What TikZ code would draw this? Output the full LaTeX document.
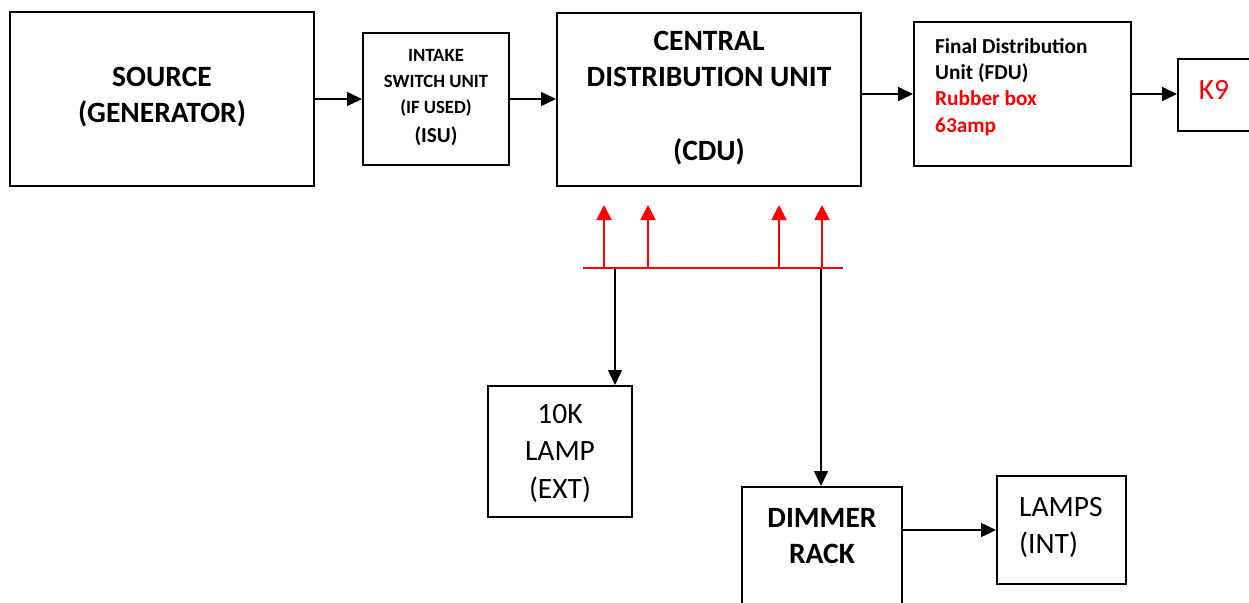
\documentclass[tikz,border=0pt]{standalone}
\usepackage{fontspec}
\setmainfont{Carlito}
\usetikzlibrary{arrows.meta}
\begin{document}
\begin{tikzpicture}[x=1pt,y=-1pt,
  box/.style={draw,line width=2pt,inner sep=0pt},
  arr/.style={line width=1.5pt,-{Triangle[length=15pt,width=14pt]}},
  rarr/.style={red,line width=2pt,-{Triangle[length=15pt,width=15pt]}},
  bigr/.style={align=center,font=\fontsize{29.5}{37.5}\selectfont},
  bigb/.style={align=center,font=\fontsize{29.5}{36}\selectfont\bfseries},
]
\useasboundingbox (0,0) rectangle (1249,602);
% boxes
\node[box,minimum width=304pt,minimum height=174pt] (src) at (162,99) {};
\node[box,minimum width=146pt,minimum height=132pt] (isu) at (436,99) {};
\node[box,minimum width=304pt,minimum height=173pt] (cdu) at (709,99.5) {};
\node[box,minimum width=217pt,minimum height=144pt] (fdu) at (1022.5,94) {};
\node[box,minimum width=92pt,minimum height=72pt] (k9) at (1224,95) {};
\node[box,minimum width=144pt,minimum height=131pt] (lamp) at (560,451.5) {};
\node[box,minimum width=160pt,minimum height=153pt] (dim) at (822,563.5) {};
\node[box,minimum width=129pt,minimum height=108pt] (lamps) at (1061.5,530) {};
% texts
\node[bigb] (srct) at (162,97) {SOURCE\\(GENERATOR)};
\node[align=center,font=\fontsize{18.7}{26}\selectfont\bfseries] (isut) at (436,98)
  {INTAKE\\SWITCH UNIT\\(IF USED)\\[3pt]{\fontsize{21.3}{26}\selectfont (ISU)}};
\node[bigb] (cdut) at (709,98.5) {CENTRAL\\DISTRIBUTION UNIT\\[38pt](CDU)};
\node[anchor=north west,inner sep=0pt,align=left,font=\fontsize{21.3}{26.3}\selectfont\bfseries] (fdut) at (935,38)
  {Final Distribution\\Unit (FDU)\\\textcolor{red}{Rubber box}\\\textcolor{red}{63amp}};
\node[red,font=\fontsize{29.5}{36}\selectfont] (k9t) at (1214,90) {K9};
\node[bigr] (lampt) at (560,453) {10K\\LAMP\\(EXT)};
\node[bigb,font=\fontsize{29.5}{35.5}\selectfont\bfseries] (dimt) at (822,536) {DIMMER\\RACK};
\node[anchor=north west,inner sep=0pt,align=left,font=\fontsize{29.5}{37}\selectfont] (lampst) at (1019,497) {LAMPS\\(INT)};
% horizontal connectors
\draw[arr] (src) -- (isu);
\draw[arr] (isu.east) -- (isu.east -| cdu.west);
\draw[arr] (cdu.east |- fdu) -- (fdu.west);
\draw[arr] (fdu.east) -- (fdu.east -| k9.west);
\draw[arr] (lamps.west -| dim.east) -- (lamps.west);
% bus
\coordinate (busL) at (583,268);
\coordinate (busR) at (843,268);
\coordinate (j1) at (615,268);
\coordinate (j2) at (821,268);
\draw[arr] (j1) -- (j1 |- lamp.north);
\draw[arr] (j2) -- (j2 |- dim.north);
\draw[red,line width=2pt] (busL) -- (busR);
\foreach \x [count=\i] in {604,648,779,822}{
  \coordinate (b\i) at (\x,268);
  \coordinate (t\i) at (\x,205);
  \draw[rarr] (b\i) -- (t\i);
}
\end{tikzpicture}
\end{document}
